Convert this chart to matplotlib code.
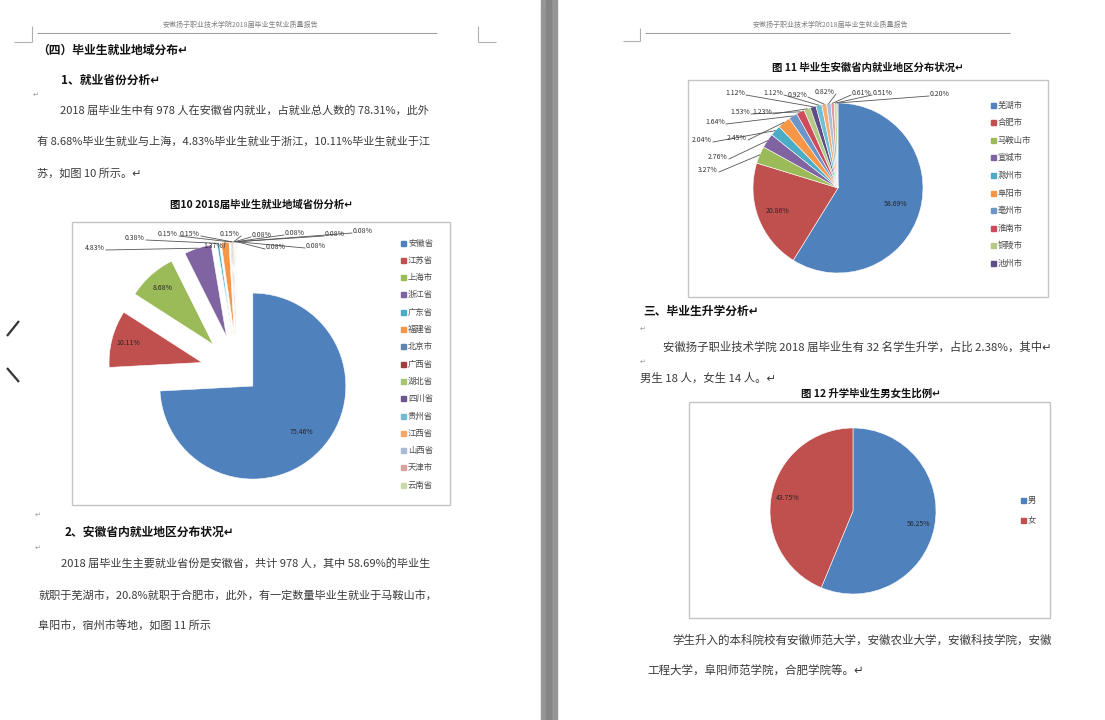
import matplotlib
matplotlib.use('Agg')
import matplotlib.pyplot as plt
from matplotlib.patches import Rectangle
import numpy as np

plt.rcParams['font.family'] = ['Noto Sans CJK SC', 'DejaVu Sans']

W, H = 1105, 720

# ---------------- data ----------------
prov_names = ['安徽省', '江苏省', '上海市', '浙江省', '广东省', '福建省', '北京市', '广西省',
              '湖北省', '四川省', '贵州省', '江西省', '山西省', '天津市', '云南省']
prov_pct = [75.46, 10.11, 8.68, 4.83, 0.38, 1.37, 0.15, 0.15,
            0.15, 0.08, 0.08, 0.08, 0.08, 0.08, 0.08]
prov_colors = ['#4F81BD', '#C0504D', '#9BBB59', '#8064A2', '#4BACC6', '#F79646', '#5F84AE', '#9E3F3D',
               '#A7C46E', '#6C5690', '#72BCD2', '#F6A765', '#A9BAD6', '#D9A2A0', '#C8DAA8']

city_names = ['芜湖市', '合肥市', '马鞍山市', '宣城市', '滁州市', '阜阳市', '亳州市', '淮南市',
              '铜陵市', '池州市', '安庆市', '六安市', '宿州市', '蚌埠市', '黄山市', '淮北市']
city_pct = [58.69, 20.86, 3.27, 2.76, 2.04, 2.45, 1.64, 1.53,
            1.23, 1.12, 1.12, 0.92, 0.82, 0.61, 0.51, 0.20]
city_colors = ['#4F81BD', '#C0504D', '#9BBB59', '#8064A2', '#4BACC6', '#F79646', '#6E95C8', '#CE4B5C',
               '#B2CA84', '#5E4E86', '#6FC0D5', '#F8AE72', '#A9C0DE', '#DE9C9B', '#C6D9A4', '#B3A5C8']
city_legend_count = 10

gender_names = ['男', '女']
gender_counts = [18, 14]
gender_colors = ['#4F81BD', '#C0504D']

# ---------------- layout (pixels) ----------------
prov_outside_pos = {3: (95, 248), 4: (135, 238), 5: (213, 246), 6: (168, 234), 7: (190, 234),
                    8: (230, 234), 9: (262, 235), 10: (295, 233), 11: (335, 234), 12: (363, 231),
                    13: (276, 247), 14: (316, 246)}
city_outside_pos = {2: (708, 170), 3: (718, 157), 4: (702, 140), 5: (737, 138), 6: (715, 122),
                    7: (740, 112), 8: (762, 112), 9: (735, 93), 10: (773, 93), 11: (797, 95),
                    12: (825, 92), 13: (862, 93), 14: (883, 93), 15: (940, 94)}

fig = plt.figure(figsize=(W / 100, H / 100), dpi=100)
fig.patch.set_facecolor('white')
ax = fig.add_axes([0, 0, 1, 1])
ax.set_xlim(0, W)
ax.set_ylim(0, H)
ax.axis('off')


def Y(y):
    return H - y


def txt(x, y, s, size=8, bold=False, color='#3a3a3a', ha='left', va='center', **kw):
    ax.text(x, Y(y), s, fontsize=size, fontweight='bold' if bold else 'normal',
            color=color, ha=ha, va=va, **kw)


def line(xs, ys, color='#999999', lw=0.8, z=3):
    ax.plot(xs, [Y(v) for v in ys], color=color, lw=lw, solid_capstyle='butt', zorder=z)


def box(x0, y0, x1, y1):
    ax.add_patch(Rectangle((x0, Y(y1)), x1 - x0, y1 - y0, fill=False,
                           edgecolor='#c4c4c4', lw=1.0, zorder=1))


def wedge_point(w, frac):
    mid = np.deg2rad((w.theta1 + w.theta2) / 2)
    cx, cy = w.center
    return cx + frac * w.r * np.cos(mid), cy + frac * w.r * np.sin(mid)


def draw_pie(values, colors, center, radius, explode=None):
    # explode given as a fraction of the radius; matplotlib wants data units
    expl = None if explode is None else [e * radius for e in explode]
    wedges, _ = ax.pie(values, colors=colors, startangle=90, counterclock=False,
                       center=(center[0], Y(center[1])), radius=radius, explode=expl,
                       frame=True, wedgeprops=dict(linewidth=0.4, edgecolor='white'))
    return wedges


def inside_labels(wedges, texts, fracs, size=5):
    for w, t, f in zip(wedges, texts, fracs):
        x, y = wedge_point(w, f)
        ax.text(x, y, t, fontsize=size, color='#262626', ha='center', va='center', zorder=5)


def outside_labels(wedges, values, positions, size=5):
    for i, (px, py) in positions.items():
        w = wedges[i]
        tx, ty = wedge_point(w, 1.0)
        ax.text(px, Y(py), f'{values[i]:.2f}%', fontsize=size, color='#333333',
                ha='center', va='center', zorder=6)
        sx = px + 11 if px < tx else px - 11
        ax.plot([sx, tx], [Y(py) - 2, ty], color='#555555', lw=0.6, zorder=5)


def draw_legend(names, colors, x, y0, dy, size=6):
    for i, (n, c) in enumerate(zip(names, colors)):
        yy = y0 + i * dy
        ax.add_patch(Rectangle((x - 2.5, Y(yy) - 2.5), 5, 5, color=c, zorder=4))
        txt(x + 5, yy, n, size=size, color='#4a4a4a')


# ---------------- page decoration ----------------
ax.add_patch(Rectangle((541, 0), 16, H, color='#969696', zorder=0))
ax.add_patch(Rectangle((546, 0), 5, H, color='#858585', zorder=0))
line([19, 7], [321, 336], color='#333333', lw=1.6)
line([7, 19], [368, 382], color='#333333', lw=1.6)

# headers
header = '安徽扬子职业技术学院2018届毕业生就业质量报告'
txt(240, 25, header, size=5, color='#808080', ha='center')
line([37, 437], [33, 33], color='#a0a0a0', lw=0.8)
txt(830, 25, header, size=5, color='#808080', ha='center')
line([645, 1010], [33, 33], color='#a0a0a0', lw=0.8)
# corner marks
line([32, 32], [26, 42], color='#b0b0b0', lw=0.8)
line([14, 32], [42, 42], color='#b0b0b0', lw=0.8)
line([478, 478], [26, 42], color='#b0b0b0', lw=0.8)
line([478, 496], [42, 42], color='#b0b0b0', lw=0.8)
line([640, 640], [28, 41], color='#b0b0b0', lw=0.8)
line([623, 640], [41, 41], color='#b0b0b0', lw=0.8)

# ---------------- left page text ----------------
txt(37, 50, '（四）毕业生就业地域分布↵', size=8.5, bold=True, color='#111111')
txt(61, 80, '1、就业省份分析↵', size=8.5, bold=True, color='#111111')
txt(33, 95, '↵', size=5, color='#999999')
txt(60, 110, '2018 届毕业生中有 978 人在安徽省内就业，占就业总人数的 78.31%，此外', size=8)
txt(37, 142, '有 8.68%毕业生就业与上海，4.83%毕业生就业于浙江，10.11%毕业生就业于江', size=8)
txt(37, 173, '苏，如图 10 所示。↵', size=8)
txt(262, 205, '图10 2018届毕业生就业地域省份分析↵', size=7.5, bold=True, color='#111111', ha='center')
txt(35, 515, '↵', size=5, color='#999999')
txt(65, 532, '2、安徽省内就业地区分布状况↵', size=8.5, bold=True, color='#111111')
txt(35, 548, '↵', size=5, color='#999999')
txt(61, 563, '2018 届毕业生主要就业省份是安徽省，共计 978 人，其中 58.69%的毕业生', size=8)
txt(38, 595, '就职于芜湖市，20.8%就职于合肥市，此外，有一定数量毕业生就业于马鞍山市，', size=8)
txt(38, 626, '阜阳市，宿州市等地，如图 11 所示', size=8)

# ---------------- chart 10 ----------------
box(72, 222, 450, 505)
explode10 = [0.22] + [0.4] * (len(prov_pct) - 1)
w10 = draw_pie(prov_pct, prov_colors, (238, 372), 93, explode=explode10)
inside_labels(w10[:3], [f'{v:.2f}%' for v in prov_pct[:3]], [0.72, 0.82, 0.82])
outside_labels(w10, prov_pct, prov_outside_pos)
draw_legend(prov_names, prov_colors, 403, 243, 17.3)

# ---------------- right page text ----------------
txt(868, 68, '图 11 毕业生安徽省内就业地区分布状况↵', size=7.5, bold=True, color='#111111', ha='center')
txt(643, 311, '三、毕业生升学分析↵', size=8.5, bold=True, color='#111111')
txt(640, 329, '↵', size=5, color='#999999')
txt(663, 347, '安徽扬子职业技术学院 2018 届毕业生有 32 名学生升学，占比 2.38%，其中↵', size=8.2)
txt(640, 362, '↵', size=5, color='#999999')
txt(640, 378, '男生 18 人，女生 14 人。↵', size=8.2)
txt(871, 394, '图 12 升学毕业生男女生比例↵', size=7.5, bold=True, color='#111111', ha='center')
txt(672, 640, '学生升入的本科院校有安徽师范大学，安徽农业大学，安徽科技学院，安徽', size=8.3)
txt(647, 670, '工程大学，阜阳师范学院，合肥学院等。↵', size=8.3)

# ---------------- chart 11 ----------------
box(688, 80, 1048, 297)
w11 = draw_pie(city_pct, city_colors, (838, 188), 85)
inside_labels(w11[:2], [f'{v:.2f}%' for v in city_pct[:2]], [0.7, 0.76])
outside_labels(w11, city_pct, city_outside_pos)
draw_legend(city_names[:city_legend_count], city_colors[:city_legend_count], 993, 105, 17.6)

# ---------------- chart 12 ----------------
box(689, 402, 1050, 618)
w12 = draw_pie(gender_counts, gender_colors, (853, 511), 83)
total = sum(gender_counts)
inside_labels(w12, [f'{c / total * 100:.2f}%' for c in gender_counts], [0.8, 0.8])
draw_legend(gender_names, gender_colors, 1023, 500, 20)

ax.set_xlim(0, W)
ax.set_ylim(0, H)
ax.set_aspect('auto')
fig.savefig('out.png', dpi=100, facecolor='white')
